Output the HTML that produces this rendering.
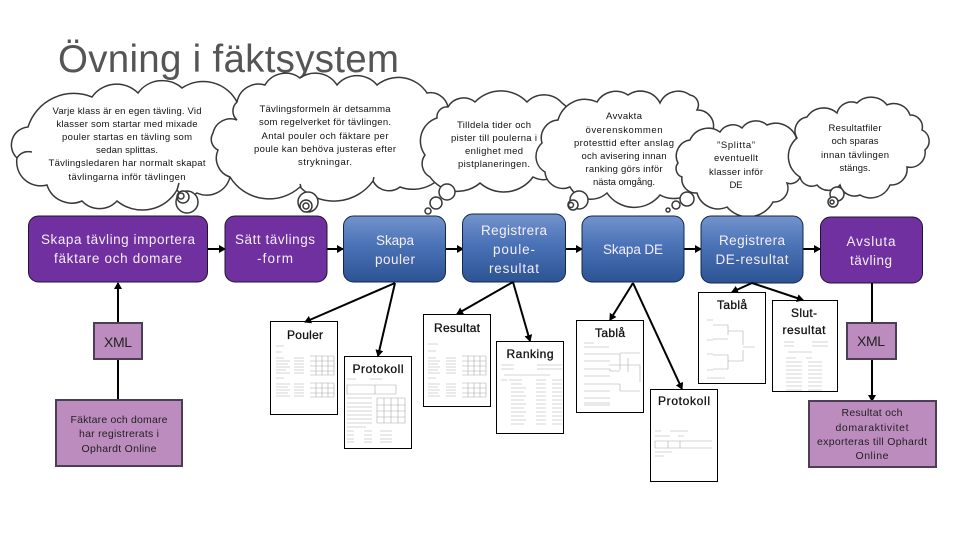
<!DOCTYPE html>
<html><head><meta charset="utf-8"><title>Övning i fäktsystem</title>
<style>
html,body{margin:0;padding:0;background:#fff}
svg{display:block}
text{font-family:"Liberation Sans",sans-serif}
.c path,.c circle{fill:#fff;stroke:#383838;stroke-width:1.5}
.h{fill:none;stroke:#383838;stroke-width:1.5}
.t{font-size:9.5px;fill:#111;text-anchor:middle}
.b{font-size:13.5px;fill:#f4eef8;text-anchor:middle}
.d{font-size:12px;fill:#111;text-anchor:middle;stroke:#111;stroke-width:.3}
.m{fill:#bc8cbf;stroke:#4b3f57;stroke-width:2}
.p{fill:#fff;stroke:#000;stroke-width:1}
.l{fill:none;stroke:#aaa;stroke-width:.6}
.k{fill:none;stroke:#000;stroke-width:2}
.x{font-size:10.5px;fill:#222;text-anchor:middle}
</style></head><body>
<svg width="960" height="540" viewBox="0 0 960 540" xmlns="http://www.w3.org/2000/svg">
<defs>
<linearGradient id="bl" x1="0" y1="0" x2="0" y2="1"><stop offset="0" stop-color="#7393cc"/><stop offset=".45" stop-color="#4a72b6"/><stop offset="1" stop-color="#2c5393"/></linearGradient>
<marker id="a" markerWidth="8" markerHeight="8" refX="6" refY="4" orient="auto" markerUnits="userSpaceOnUse"><path d="M0 0L7 4L0 8Z" fill="#000"/></marker>
</defs>

<text x="58" y="72" font-size="38.500" fill="#555" textLength="341">Övning i fäktsystem</text>

<!-- cloud 1 -->
<g class="c">
<path d="M28 127A48 48 0 0 1 92 97A30 30 0 0 1 138 93A30 30 0 0 1 182 88A38 38 0 0 1 237 102A30 30 0 0 1 240 150A20 20 0 0 1 230 177A24 24 0 0 1 197 193A14 14 0 0 1 177 190A40 40 0 0 1 117 201A24 24 0 0 1 82 201A26 26 0 0 1 47 185A24 24 0 0 1 17 158A18 18 0 0 1 28 127Z"/>
<circle cx="187" cy="202" r="11"/><circle cx="183" cy="197" r="6"/><circle cx="181" cy="196" r="3"/>
</g>
<path class="h" d="M17 158Q22 150 32 152M177 190L179 183"/>

<!-- cloud 2 -->
<g class="c">
<path d="M237 102A22 22 0 0 1 265 85A24 24 0 0 1 300 78A26 26 0 0 1 337 85A26 26 0 0 1 377 85A34 34 0 0 1 427 93A18 18 0 0 1 448 107A32 32 0 0 1 450 160A38 38 0 0 1 400 187A18 18 0 0 1 373 181A48 48 0 0 1 300 187A46 46 0 0 1 230 177A20 20 0 0 1 218 150A12 12 0 0 1 213 133A18 18 0 0 1 237 120A12 12 0 0 1 237 102Z"/>
<circle cx="308" cy="202" r="10"/><circle cx="306" cy="206" r="6"/><circle cx="306" cy="206" r="3"/>
</g>
<path class="h" d="M373 181L374 177M301 187L300 184"/>

<!-- cloud 3 -->
<g class="c">
<path d="M437 118A10 10 0 0 1 448 107A18 18 0 0 1 475 102A36 36 0 0 1 527 102A24 24 0 0 1 562 103A40 40 0 0 1 566 165A24 24 0 0 1 533 177A36 36 0 0 1 480 183A34 34 0 0 1 430 177A15 15 0 0 1 425 155A24 24 0 0 1 437 118Z"/>
<circle cx="447" cy="192" r="8"/><circle cx="436" cy="203" r="6"/><circle cx="428" cy="211" r="3"/>
</g>

<!-- cloud 4 -->
<g class="c">
<path d="M558 120A28 28 0 0 1 597 102A22 22 0 0 1 628 95A22 22 0 0 1 660 103A20 20 0 0 1 690 95A10 10 0 0 1 697 110A16 16 0 0 1 713 130A34 34 0 0 1 700 180A28 28 0 0 1 660 195A33 33 0 0 1 607 193A24 24 0 0 1 570 187A18 18 0 0 1 545 172A18 18 0 0 1 542 143A18 18 0 0 1 558 120Z"/>
<circle cx="579" cy="200" r="9"/><circle cx="573" cy="205" r="5"/><circle cx="571" cy="205" r="2.500"/>
</g>

<!-- cloud 5 -->
<g class="c">
<path d="M690 140A20 20 0 0 1 720 132A15 15 0 0 1 742 128A17 17 0 0 1 767 125A22 22 0 0 1 797 140A24 24 0 0 1 800 177A10 10 0 0 1 787 183A14 14 0 0 1 773 202A28 28 0 0 1 727 207A22 22 0 0 1 697 193A14 14 0 0 1 682 177A9 9 0 0 1 678 163A16 16 0 0 1 690 140Z"/>
<circle cx="687" cy="199" r="7"/><circle cx="676" cy="205" r="4"/><circle cx="668" cy="210" r="2"/>
</g>

<!-- cloud 6 -->
<g class="c">
<path d="M797 138A14 14 0 0 1 807 117A20 20 0 0 1 837 113A15 15 0 0 1 857 103A20 20 0 0 1 887 105A17 17 0 0 1 910 115A12 12 0 0 1 922 130A12 12 0 0 1 925 150A15 15 0 0 1 907 167A16 16 0 0 1 890 185A21 21 0 0 1 860 195A15 15 0 0 1 840 185A15 15 0 0 1 817 185A12 12 0 0 1 800 177A24 24 0 0 1 797 138Z"/>
<circle cx="837" cy="194" r="7"/><circle cx="833" cy="202" r="5"/><circle cx="832" cy="202" r="2"/>
</g>

<!-- cloud text -->
<g class="t">
<text x="127" y="114" textLength="149">Varje klass är en egen tävling. Vid</text>
<text x="127" y="127" textLength="141">klasser som startar med mixade</text>
<text x="127" y="140" textLength="130">pouler startas en tävling som</text>
<text x="127" y="153" textLength="62">sedan splittas.</text>
<text x="127" y="166" textLength="157">Tävlingsledaren har normalt skapat</text>
<text x="127" y="180" textLength="117">tävlingarna inför tävlingen</text>

<text x="325" y="112" textLength="131">Tävlingsformeln är detsamma</text>
<text x="325" y="125" textLength="132">som regelverket för tävlingen.</text>
<text x="325" y="139" textLength="127">Antal pouler och fäktare per</text>
<text x="325" y="152" textLength="142">poule kan behöva justeras efter</text>
<text x="325" y="165" textLength="54">strykningar.</text>

<text x="494" y="128" textLength="74">Tilldela tider och</text>
<text x="494" y="141" textLength="86">pister till poulerna i</text>
<text x="494" y="154" textLength="58">enlighet med</text>
<text x="494" y="167" textLength="72">pistplaneringen.</text>

<text x="624" y="119" textLength="36">Avvakta</text>
<text x="624" y="133" textLength="77">överenskommen</text>
<text x="624" y="146" textLength="100">protesttid efter anslag</text>
<text x="624" y="159" textLength="85">och avisering innan</text>
<text x="624" y="172" textLength="77">ranking görs inför</text>
<text x="624" y="185" textLength="62">nästa omgång.</text>

<text x="736" y="148" textLength="38">”Splitta”</text>
<text x="736" y="161" textLength="44">eventuellt</text>
<text x="736" y="175" textLength="54">klasser inför</text>
<text x="736" y="188" textLength="13">DE</text>

<text x="855" y="131" textLength="53">Resultatfiler</text>
<text x="855" y="144" textLength="47">och sparas</text>
<text x="855" y="158" textLength="68">innan tävlingen</text>
<text x="855" y="171" textLength="31">stängs.</text>
</g>

<!-- connectors between process boxes -->
<path class="k" d="M207 249H225" marker-end="url(#a)"/>
<path class="k" d="M327 249H343" marker-end="url(#a)"/>
<path class="k" d="M446 249H463" marker-end="url(#a)"/>
<path class="k" d="M565 249H582" marker-end="url(#a)"/>
<path class="k" d="M684 249H701" marker-end="url(#a)"/>
<path class="k" d="M803 249H820" marker-end="url(#a)"/>

<!-- process boxes -->
<rect x="28.500" y="216" width="179" height="66" rx="10" fill="#7030a0" stroke="#1d1530" stroke-width="1"/>
<rect x="225" y="216" width="102" height="66" rx="10" fill="#7030a0" stroke="#1d1530" stroke-width="1"/>
<rect x="343.500" y="216" width="102" height="66" rx="10" fill="url(#bl)" stroke="#12284a" stroke-width="1"/>
<rect x="462.500" y="214" width="103" height="68" rx="10" fill="url(#bl)" stroke="#12284a" stroke-width="1"/>
<rect x="582" y="216" width="102" height="66" rx="10" fill="url(#bl)" stroke="#12284a" stroke-width="1"/>
<rect x="701" y="216" width="102" height="67" rx="10" fill="url(#bl)" stroke="#12284a" stroke-width="1"/>
<rect x="820.500" y="217" width="102" height="66" rx="10" fill="#7030a0" stroke="#1d1530" stroke-width="1"/>

<g class="b">
<text x="118" y="244" textLength="154">Skapa tävling importera</text>
<text x="118" y="263" textLength="128">fäktare och domare</text>
<text x="275" y="244" textLength="80">Sätt tävlings</text>
<text x="275" y="263" textLength="36">-form</text>
<text x="395" y="245" textLength="38">Skapa</text>
<text x="395" y="264" textLength="40">pouler</text>
<text x="514" y="235" textLength="66">Registrera</text>
<text x="514" y="254" textLength="42">poule-</text>
<text x="514" y="273" textLength="50">resultat</text>
<text x="633" y="254" textLength="60">Skapa DE</text>
<text x="752" y="245" textLength="66">Registrera</text>
<text x="752" y="264" textLength="73">DE-resultat</text>
<text x="871" y="246" textLength="49">Avsluta</text>
<text x="871" y="265" textLength="42">tävling</text>
</g>

<!-- XML left -->
<path class="k" d="M118 323V283" marker-end="url(#a)"/>
<path class="k" d="M118 359V400"/>
<rect class="m" x="94" y="323" width="48" height="36"/>
<text class="x" x="118" y="347" style="font-size:14px" textLength="28">XML</text>
<rect class="m" x="56" y="400" width="126" height="66"/>
<g class="x">
<text x="119" y="423" textLength="97">Fäktare och domare</text>
<text x="119" y="437" textLength="80">har registrerats i</text>
<text x="119" y="452" textLength="75">Ophardt Online</text>
</g>

<!-- XML right -->
<path class="k" d="M872 283V323"/>
<path class="k" d="M872 359V401" marker-end="url(#a)"/>
<rect class="m" x="847" y="323" width="49" height="36"/>
<text class="x" x="871" y="346" style="font-size:14px" textLength="28">XML</text>
<rect class="m" x="809" y="401" width="127" height="66"/>
<g class="x">
<text x="872" y="416" textLength="61">Resultat och</text>
<text x="872" y="431" textLength="73">domaraktivitet</text>
<text x="872" y="445" textLength="110">exporteras till Ophardt</text>
<text x="872" y="459" textLength="33">Online</text>
</g>

<!-- page 1 Pouler -->
<rect class="p" x="270.500" y="321.500" width="67" height="93"/>
<text class="d" x="305" y="339" textLength="36">Pouler</text>
<path class="l" d="M276 346H284M276 352H282M276 358H284M294 358H304M276 361H290M294 361H304M276 364H288M294 364H304M276 367H290M294 367H304M276 370H286M294 370H304M276 373H290M294 373H304M276 378H284M276 384H290M294 384H304M276 387H288M294 387H304M276 390H290M294 390H304M276 393H288M294 393H304M276 396H290M294 396H304"/>
<path class="l" d="M310 356H334M310 361H334M310 366H334M310 371H334M310 375H334M316 356V375M322 356V375M328 356V375M334 356V375M310 383H334M310 388H334M310 393H334M310 397H334M316 383V397M322 383V397M328 383V397M334 383V397"/>

<!-- page 2 Protokoll -->
<rect class="p" x="344.500" y="356.500" width="67" height="92"/>
<text class="d" x="378" y="373" textLength="51">Protokoll</text>
<path class="l" d="M347 379H356M370 379H382M347 385H396V394H347ZM375 385V394M347 398H372M347 403H372M347 407H372M347 411H372M347 415H372M347 419H372M347 423H372M377 398H405V423H377ZM384 398V423M391 398V423M398 398V423M377 405H405M377 411H405M377 417H405M347 427H366M347 431H354M364 431H372M380 431H392M347 435H354M364 435H372M380 435H392M347 439H354M364 439H372M380 439H392M347 442H354M364 442H372M380 442H392"/>

<!-- page 3 Resultat -->
<rect class="p" x="423.500" y="314.500" width="67" height="92"/>
<text class="d" x="457" y="332" textLength="46">Resultat</text>
<path class="l" d="M428 344H438M428 351H436M428 358H436M446 358H456M428 361H440M446 361H456M428 364H438M446 364H456M428 367H440M446 367H456M428 370H438M446 370H456M428 373H440M446 373H456M428 378H436M428 384H440M446 384H456M428 387H438M446 387H456M428 390H440M446 390H456M428 393H438M446 393H456M428 396H440M446 396H456"/>
<path class="l" d="M462 356H486M462 361H486M462 366H486M462 371H486M462 375H486M468 356V375M474 356V375M480 356V375M486 356V375M462 383H486M462 388H486M462 393H486M462 397H486M468 383V397M474 383V397M480 383V397M486 383V397"/>

<!-- page 4 Ranking -->
<rect class="p" x="496.500" y="341.500" width="67" height="92"/>
<text class="d" x="530" y="358" textLength="47">Ranking</text>
<path class="l" d="M501 365H514M537 365H562M501 369H514M537 369H562M504 375H550M501 380H507M509 380H522M536 380H546M552 380H562M511 384H522M536 384H546M552 384H562M511 388H526M536 388H546M552 388H562M511 392H524M536 392H546M552 392H562M511 396H526M536 396H546M552 396H562M511 400H524M536 400H546M552 400H562M511 404H526M536 404H546M552 404H562M511 408H524M536 408H546M552 408H562M511 412H526M536 412H546M552 412H562M511 416H524M536 416H546M552 416H562M511 420H526M536 420H546M552 420H562M511 424H524M536 424H546M552 424H562"/>

<!-- page 5 Tablå -->
<rect class="p" x="576.500" y="320.500" width="67" height="92"/>
<text class="d" x="610" y="337" textLength="30">Tablå</text>
<path class="l" d="M584 343H594M584 347H609M584 354H610M609 354H620V362M584 361H610M584 369H610V371H620M620 353H640M584 376H610M584 384H610H620V391M584 391H610M584 398H610M620 391H640M584 405H610M584 403H610M609 365H640V382M620 355V370M628 358V372"/>

<!-- page 6 Protokoll -->
<rect class="p" x="650.500" y="389.500" width="67" height="92"/>
<text class="d" x="684" y="405" textLength="52">Protokoll</text>
<path class="l" d="M655 431H661M670 431H688M655 436H670M678 436H684M655 441H712M655 448H712M655 441V448M668 441V448M680 441V448M655 452H672M655 456H664"/>

<!-- page 7 Tablå -->
<rect class="p" x="698.500" y="292.500" width="67" height="91"/>
<text class="d" x="732" y="309" textLength="30">Tablå</text>
<path class="l" d="M707 320H713M713 325H728V335M707 340H713M713 339H728M728 331H743V345M707 354H713M713 355H728V369M707 370H713M713 369H728M728 361H743V350M743 347H755M707 378H725"/>

<!-- page 8 Slut-resultat -->
<rect class="p" x="772.500" y="300.500" width="65" height="91"/>
<text class="d" x="804" y="317" textLength="26">Slut-</text>
<text class="d" x="804" y="334" textLength="43">resultat</text>
<path class="l" d="M784 342H794M812 342H828M784 346H794M812 346H828M788 352H812M786 358H796M806 358H812M786 362H802M808 362H822M786 366H802M808 366H822M786 370H802M808 370H822M786 374H802M808 374H822M786 378H802M808 378H822M786 382H802M808 382H822M786 386H802M808 386H822M786 390H802M808 390H822"/>

<!-- doc arrows -->
<path class="k" d="M395 283L305 322" marker-end="url(#a)"/>
<path class="k" d="M395 283L378 356" marker-end="url(#a)"/>
<path class="k" d="M513 282L457 314" marker-end="url(#a)"/>
<path class="k" d="M513 282L530 341" marker-end="url(#a)"/>
<path class="k" d="M633 283L610 320" marker-end="url(#a)"/>
<path class="k" d="M633 283L682 389" marker-end="url(#a)"/>
<path class="k" d="M752 283L732 292" marker-end="url(#a)"/>
<path class="k" d="M752 283L803 300" marker-end="url(#a)"/>
</svg>
</body></html>
